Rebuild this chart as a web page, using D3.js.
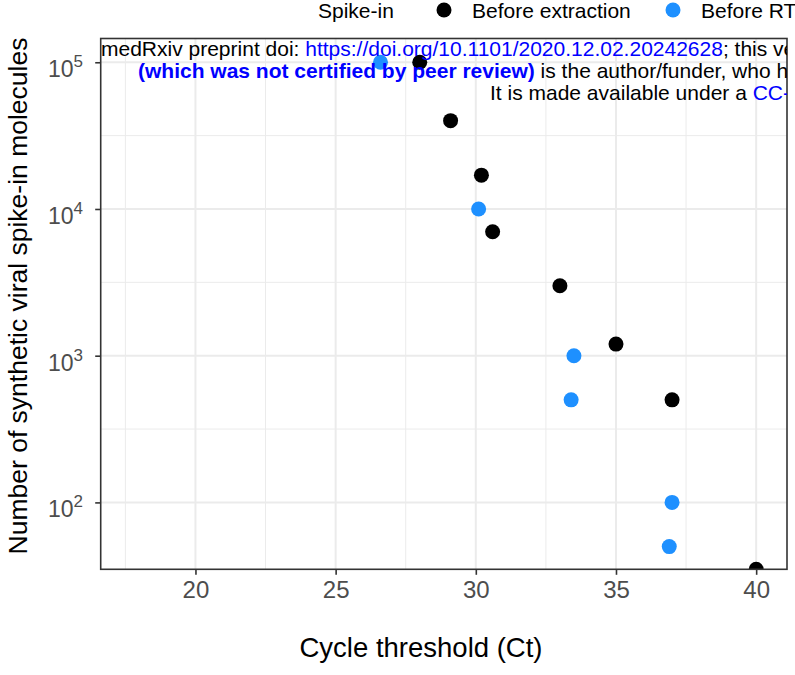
<!DOCTYPE html>
<html>
<head>
<meta charset="utf-8">
<script src="https://cdn.jsdelivr.net/npm/d3@7"></script>
<style>
  body { margin: 0; background: #fff; }
  text { font-family: "Liberation Sans", Arial, Helvetica, sans-serif; }
</style>
</head>
<body>
<svg id="chart" width="795" height="675"></svg>
<script>
// Spike-in dilution series: Ct value vs. number of molecules added
const seriesNames = ["Before extraction", "Before RT"];
const seriesColors = ["#000000", "#1E90FF"];
const ctBeforeExtraction = [28.0, 29.1, 30.2, 30.6, 33.0, 35.0, 37.0, 40.0];
const moleculesBeforeExtraction = [100000, 40000, 17000, 7000, 3000, 1200, 500, 35];
const ctBeforeRT = [26.6, 30.1, 33.5, 33.4, 37.0, 36.9];
const moleculesBeforeRT = [100000, 10000, 1000, 500, 100, 50];
const xTicks = [20, 25, 30, 35, 40];
const xMinorTicks = [17.5, 22.5, 27.5, 32.5, 37.5];
const yTickExponents = [2, 3, 4, 5];
const yMinorExponents = [2.5, 3.5, 4.5];

const points = [
  ...ctBeforeExtraction.map((ct, i) => ({ ct, n: moleculesBeforeExtraction[i], s: 0 })),
  ...ctBeforeRT.map((ct, i) => ({ ct, n: moleculesBeforeRT[i], s: 1 }))
];

const svg = d3.select("#chart");
const panel = { left: 100.7, right: 787, top: 38.5, bottom: 569.3 };

const x = d3.scaleLinear().domain([16.62, 41.1]).range([panel.left, panel.right]);
const y = d3.scaleLog().domain([35, Math.pow(10, 5.162)]).range([panel.bottom, panel.top]);

svg.append("rect").attr("width", 795).attr("height", 675).attr("fill", "#fff");

svg.append("clipPath").attr("id", "panelClip")
  .append("rect")
  .attr("x", panel.left).attr("y", panel.top)
  .attr("width", panel.right - panel.left).attr("height", panel.bottom - panel.top);

const grid = svg.append("g");
// minor grid
grid.selectAll(".xmin").data(xMinorTicks).join("line")
  .attr("x1", d => x(d)).attr("x2", d => x(d))
  .attr("y1", panel.top).attr("y2", panel.bottom)
  .attr("stroke", "#EBEBEB").attr("stroke-width", 1);
grid.selectAll(".ymin").data(yMinorExponents).join("line")
  .attr("y1", d => y(Math.pow(10, d))).attr("y2", d => y(Math.pow(10, d)))
  .attr("x1", panel.left).attr("x2", panel.right)
  .attr("stroke", "#EBEBEB").attr("stroke-width", 1);
// major grid
grid.selectAll(".xmaj").data(xTicks).join("line")
  .attr("x1", d => x(d)).attr("x2", d => x(d))
  .attr("y1", panel.top).attr("y2", panel.bottom)
  .attr("stroke", "#EBEBEB").attr("stroke-width", 2);
grid.selectAll(".ymaj").data(yTickExponents).join("line")
  .attr("y1", d => y(Math.pow(10, d))).attr("y2", d => y(Math.pow(10, d)))
  .attr("x1", panel.left).attr("x2", panel.right)
  .attr("stroke", "#EBEBEB").attr("stroke-width", 2);

// points
svg.append("g").attr("clip-path", "url(#panelClip)")
  .selectAll("circle").data(points).join("circle")
  .attr("cx", d => x(d.ct)).attr("cy", d => y(d.n))
  .attr("r", 7.5)
  .attr("fill", d => seriesColors[d.s]);

// axes
const xAxis = d3.axisBottom(x).tickValues(xTicks).tickSize(5.5).tickPadding(6).tickFormat(d3.format("d"));
const gx = svg.append("g").attr("transform", `translate(0,${panel.bottom})`).call(xAxis);
gx.select(".domain").remove();
gx.selectAll(".tick line").attr("stroke", "#333333").attr("stroke-width", 1.6);
gx.selectAll(".tick text").attr("fill", "#4D4D4D").attr("font-size", 24)
  .attr("font-family", "Liberation Sans, Arial, sans-serif").attr("dy", "0.71em");

const yAxis = d3.axisLeft(y).tickValues(yTickExponents.map(e => Math.pow(10, e))).tickSize(5.5).tickFormat("");
const gy = svg.append("g").attr("transform", `translate(${panel.left},0)`).call(yAxis);
gy.select(".domain").remove();
gy.selectAll(".tick line").attr("stroke", "#333333").attr("stroke-width", 1.6);

// power-of-ten tick labels
const yLab = svg.append("g");
yTickExponents.forEach(e => {
  const ty = y(Math.pow(10, e));
  const t = yLab.append("text")
    .attr("x", 83).attr("y", ty + 15)
    .attr("text-anchor", "end")
    .attr("fill", "#4D4D4D").attr("font-size", 23);
  t.append("tspan").text("10");
  t.append("tspan").attr("font-size", 17).attr("dy", -10).text(e);
});

// panel border
svg.append("rect")
  .attr("x", panel.left).attr("y", panel.top)
  .attr("width", panel.right - panel.left).attr("height", panel.bottom - panel.top)
  .attr("fill", "none").attr("stroke", "#333333").attr("stroke-width", 1.6);

// axis titles
svg.append("text")
  .attr("x", 421).attr("y", 657)
  .attr("text-anchor", "middle").attr("font-size", 27.5).attr("fill", "#000")
  .text("Cycle threshold (Ct)");
svg.append("text")
  .attr("transform", "translate(27,296) rotate(-90)")
  .attr("text-anchor", "middle").attr("font-size", 26.5).attr("fill", "#000")
  .text("Number of synthetic viral spike-in molecules");

// legend
const legend = svg.append("g");
legend.append("text").attr("x", 318).attr("y", 17.5).attr("font-size", 21).text("Spike-in");
const legendX = [444, 673];
seriesNames.forEach((name, i) => {
  legend.append("circle").attr("cx", legendX[i]).attr("cy", 10).attr("r", 7.5).attr("fill", seriesColors[i]);
  legend.append("text").attr("x", legendX[i] + 28).attr("y", 17.5).attr("font-size", 21).text(name);
});

// preprint header banner, clipped at the panel's right edge
svg.append("clipPath").attr("id", "bannerClip")
  .append("rect").attr("x", 0).attr("y", 0).attr("width", panel.right).attr("height", 675);
const banner = svg.append("g").attr("clip-path", "url(#bannerClip)").attr("font-size", 21);
const l1 = banner.append("text").attr("x", 101).attr("y", 56);
l1.append("tspan").text("medRxiv preprint doi: ");
l1.append("tspan").attr("fill", "#0000ff").text("https://doi.org/10.1101/2020.12.02.20242628");
l1.append("tspan").text("; this version posted December 4, 2020. The copyright holder for this preprint");
const l2 = banner.append("text").attr("x", 138).attr("y", 78);
l2.append("tspan").attr("fill", "#0000ff").attr("font-weight", "bold").text("(which was not certified by peer review)");
l2.append("tspan").text(" is the author/funder, who has granted medRxiv a license to display the preprint in perpetuity.");
const l3 = banner.append("text").attr("x", 490).attr("y", 100);
l3.append("tspan").text("It is made available under a ");
l3.append("tspan").attr("fill", "#0000ff").text("CC-BY-NC-ND 4.0");
l3.append("tspan").text(" International license.");
</script>
</body>
</html>
